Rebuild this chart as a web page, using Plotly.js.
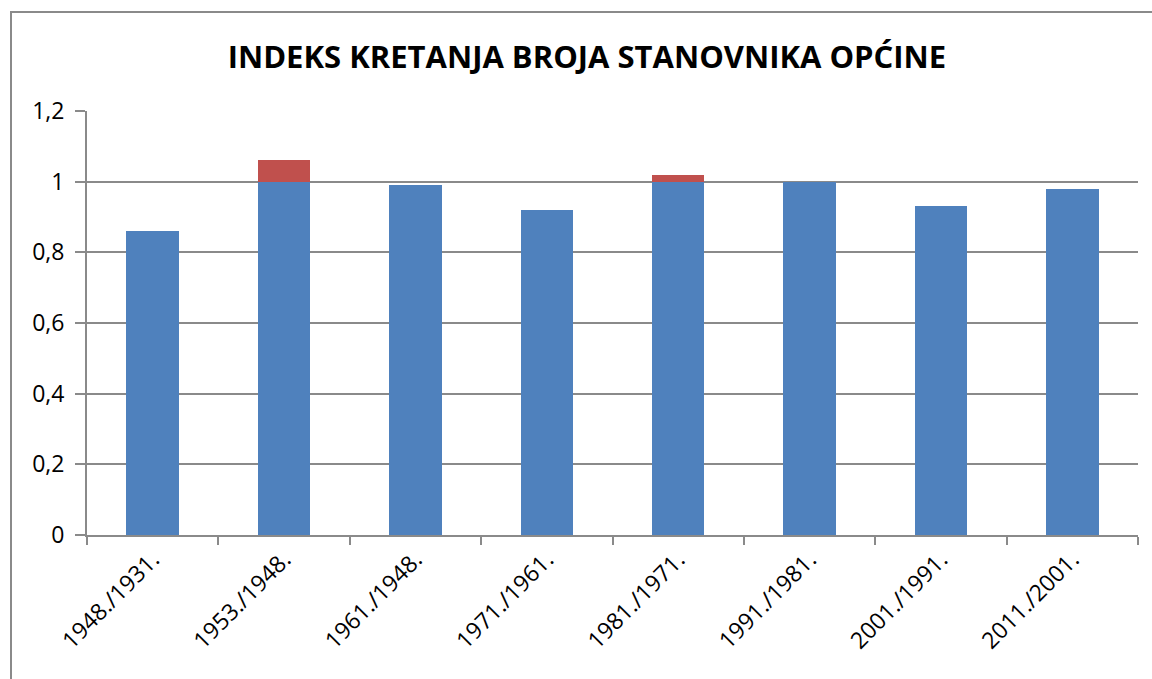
<!DOCTYPE html>
<html>
<head>
<meta charset="utf-8">
<script src="https://cdn.plot.ly/plotly-3.0.1.min.js"></script>
<style>
  html, body { margin: 0; padding: 0; background: #fff; }
  #wrap { position: relative; width: 1152px; height: 679px; }
  #chart { position: absolute; left: 0; top: 0; width: 1152px; height: 679px; }
  #frame { position: absolute; left: 10px; top: 11px; width: 1160px; height: 700px;
           border-left: 2px solid #8a8a8a; border-top: 2px solid #8a8a8a; pointer-events: none; }
</style>
</head>
<body>
<div id="wrap">
  <div id="chart"></div>
  <div id="frame"></div>
</div>
<script>
const categories = ["1948./1931.", "1953./1948.", "1961./1948.", "1971./1961.", "1981./1971.", "1991./1981.", "2001./1991.", "2011./2001."];
const indexValues = [0.86, 1.06, 0.99, 0.92, 1.02, 1.00, 0.93, 0.98];
const yTicks = [0, 0.2, 0.4, 0.6, 0.8, 1, 1.2];
const yTickText = ["0", "0,2", "0,4", "0,6", "0,8", "1", "1,2"];

const baseVals = indexValues.map(v => Math.min(v, 1));
const growthVals = indexValues.map(v => Math.max(v - 1, 0));

const font = "Open Sans, Noto Sans, sans-serif";

const traces = [
  { type: "bar", x: categories, y: baseVals, marker: { color: "#4f81bd" }, width: 0.4, hoverinfo: "x+y" },
  { type: "bar", x: categories, y: growthVals, marker: { color: "#c0504d" }, width: 0.4, hoverinfo: "x+y" }
];

const layout = {
  width: 1152, height: 679,
  margin: { l: 87, r: 14, t: 111, b: 144 },
  paper_bgcolor: "#ffffff", plot_bgcolor: "#ffffff",
  barmode: "stack",
  showlegend: false,
  separators: ",.",
  title: {
    text: "<b>INDEKS KRETANJA BROJA STANOVNIKA OPĆINE</b>",
    font: { family: font, size: 31, color: "#000" },
    xref: "container", yref: "container",
    x: 0.5095, xanchor: "center", y: 1 - 57 / 679, yanchor: "middle"
  },
  xaxis: {
    type: "category",
    showgrid: false,
    showline: true, linecolor: "#8a8a8a", linewidth: 2,
    ticks: "outside", tickson: "boundaries", ticklen: 8, tickcolor: "#8a8a8a", tickwidth: 2,
    tickangle: -45,
    tickfont: { family: font, size: 23, color: "#000" },
    fixedrange: true
  },
  yaxis: {
    range: [0, 1.2],
    tickvals: yTicks, ticktext: yTickText,
    showgrid: true, gridcolor: "#8a8a8a", gridwidth: 2,
    showline: true, linecolor: "#8a8a8a", linewidth: 2,
    ticks: "outside", ticklen: 10, tickcolor: "#8a8a8a", tickwidth: 2,
    ticklabelstandoff: 6,
    zeroline: false,
    tickfont: { family: font, size: 23, color: "#000" },
    fixedrange: true
  }
};

Plotly.newPlot("chart", traces, layout, { displayModeBar: false, staticPlot: true });
</script>
</body>
</html>
